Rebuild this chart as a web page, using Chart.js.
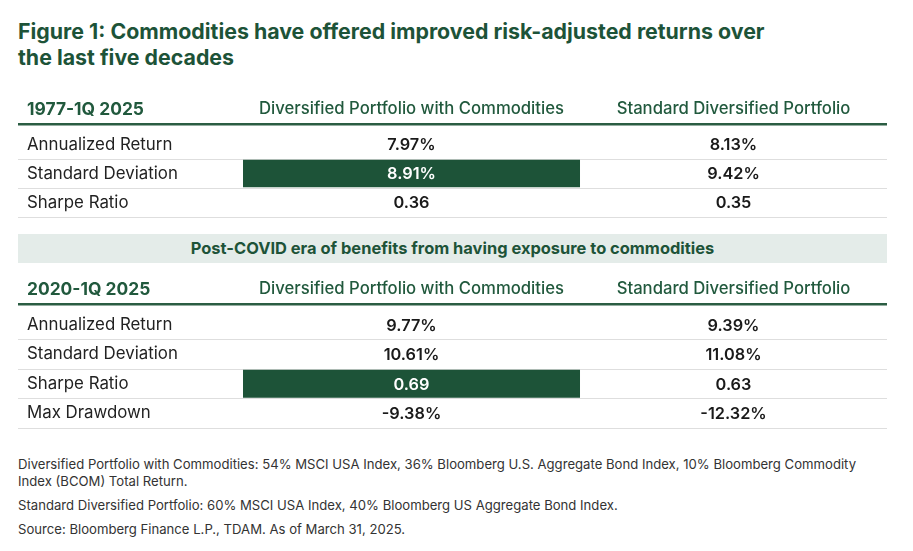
<!DOCTYPE html>
<html>
<head>
<meta charset="utf-8">
<script src="https://cdn.jsdelivr.net/npm/chart.js@4.4.1/dist/chart.umd.min.js"></script>
<style>
  html, body { margin: 0; padding: 0; background: #ffffff; }
  body { width: 913px; height: 551px; position: relative; overflow: hidden; }
  .abs { position: absolute; white-space: nowrap; margin: 0; }
  canvas.abs { display: block; }
</style>
</head>
<body>
<div id="title1" class="abs"></div>
<div id="title2" class="abs"></div>
<canvas id="table1" class="abs" width="869" height="130" style="left:18px;top:90px;width:869px;height:130px"></canvas>
<div id="banner" class="abs" style="left:18px;top:234px;width:869px;height:29px;background:#e4ece9"></div>
<div id="bannerText" class="abs"></div>
<canvas id="table2" class="abs" width="869" height="161" style="left:18px;top:270px;width:869px;height:161px"></canvas>
<div id="foot1" class="abs"></div>
<div id="foot2" class="abs"></div>
<div id="foot3" class="abs"></div>
<div id="foot4" class="abs"></div>
<script>
// ---------------- DATA ----------------
const periodLabels = ['1977-1Q 2025', '2020-1Q 2025'];
const columnHeaders = ['Diversified Portfolio with Commodities', 'Standard Diversified Portfolio'];

const rowLabels1977 = ['Annualized Return', 'Standard Deviation', 'Sharpe Ratio'];
const withCommodities1977 = [7.97, 8.91, 0.36];
const standard1977 = [8.13, 9.42, 0.35];
const units1977 = ['%', '%', ''];
const highlighted1977 = [false, true, false];

const rowLabels2020 = ['Annualized Return', 'Standard Deviation', 'Sharpe Ratio', 'Max Drawdown'];
const withCommodities2020 = [9.77, 10.61, 0.69, -9.38];
const standard2020 = [9.39, 11.08, 0.63, -12.32];
const units2020 = ['%', '%', '', '%'];
const highlighted2020 = [false, false, true, false];

const titleLines = ['Figure 1: Commodities have offered improved risk-adjusted returns over', 'the last five decades'];
const bannerCaption = 'Post-COVID era of benefits from having exposure to commodities';
const footnotes = [
  'Diversified Portfolio with Commodities: 54% MSCI USA Index, 36% Bloomberg U.S. Aggregate Bond Index, 10% Bloomberg Commodity',
  'Index (BCOM) Total Return.',
  'Standard Diversified Portfolio: 60% MSCI USA Index, 40% Bloomberg US Aggregate Bond Index.',
  'Source: Bloomberg Finance L.P., TDAM. As of March 31, 2025.'
];

// ---------------- STYLE / LAYOUT ----------------
const FONT = 'Inter, "DejaVu Sans", sans-serif';
const GREEN = '#1d5338';
const HEADER_GREEN = '#21593d';
const COL_SPLIT = 0.5233;          // fraction of value area taken by first column
const mctx = document.createElement('canvas').getContext('2d');

function fitSize(text, weight, target) {
  mctx.font = `${weight} 100px ${FONT}`;
  return 100 * target / mctx.measureText(text).width;
}

function placeText(id, text, o) {
  const el = document.getElementById(id);
  el.textContent = text;
  const font = `${o.weight} ${o.size}px ${FONT}`;
  el.style.font = font;
  el.style.lineHeight = o.size + 'px';
  el.style.color = o.color;
  mctx.font = font;
  const m = mctx.measureText(text);
  const A = m.fontBoundingBoxAscent, D = m.fontBoundingBoxDescent;
  el.style.top = (o.baseline - ((o.size - (A + D)) / 2 + A)) + 'px';
  el.style.left = (o.align === 'center' ? o.x - m.width / 2 : o.x) + 'px';
}

const titleSize = fitSize(titleLines[0], 700, 747);
placeText('title1', titleLines[0], {x: 18, baseline: 40, weight: 700, size: titleSize, color: GREEN});
placeText('title2', titleLines[1], {x: 18, baseline: 65.7, weight: 700, size: titleSize, color: GREEN});

const bannerSize = fitSize(bannerCaption, 700, 524);
placeText('bannerText', bannerCaption, {x: 452.5, baseline: 254.5, weight: 700, size: bannerSize, color: GREEN, align: 'center'});

const footSize = fitSize(footnotes[0], 400, 839);
const footBaselines = [470, 486.7, 511, 534.3];
footnotes.forEach((t, i) => placeText('foot' + (i + 1), t, {x: 18, baseline: footBaselines[i], weight: 400, size: footSize, color: '#333333'}));

const rowLabelSize = fitSize('Standard Deviation', 400, 151);
const valueSize = fitSize('10.61%', 600, 55.7);
const periodSize = fitSize(periodLabels[0], 700, 117);
const colHeadSize = fitSize(columnHeaders[0], 500, 305);

// ---------------- TABLE CHARTS ----------------
const tableTextPlugin = {
  id: 'tableText',
  afterDatasetsDraw(chart, args, opts) {
    const {ctx, chartArea, scales: {x, y}} = chart;
    const lineY = chartArea.top - 5.7;
    const headY = lineY - 15;
    const c1 = x.getPixelForValue(COL_SPLIT / 2);
    const c2 = x.getPixelForValue((COL_SPLIT + 1) / 2);
    ctx.save();
    // header rule
    ctx.strokeStyle = '#2b5d43';
    ctx.lineWidth = 2.5;
    ctx.beginPath();
    ctx.moveTo(0, lineY);
    ctx.lineTo(chart.width, lineY);
    ctx.stroke();
    // header texts
    ctx.textBaseline = 'middle';
    ctx.fillStyle = HEADER_GREEN;
    ctx.textAlign = 'left';
    ctx.font = `700 ${periodSize}px ${FONT}`;
    ctx.fillText(opts.period, 9, headY);
    ctx.textAlign = 'center';
    ctx.font = `500 ${colHeadSize}px ${FONT}`;
    ctx.fillText(columnHeaders[0], c1, headY);
    ctx.fillText(columnHeaders[1], c2, headY);
    // values
    ctx.font = `600 ${valueSize}px ${FONT}`;
    opts.labels.forEach((lab, i) => {
      const py = y.getPixelForValue(i) + 1;
      ctx.fillStyle = opts.highlight[i] ? '#ffffff' : '#1a1a1a';
      ctx.fillText(opts.colA[i].toFixed(2) + opts.units[i], c1, py);
      ctx.fillStyle = '#1a1a1a';
      ctx.fillText(opts.colB[i].toFixed(2) + opts.units[i], c2, py);
    });
    ctx.restore();
  }
};

function makeTable(id, period, labels, colA, colB, units, highlight) {
  return new Chart(document.getElementById(id), {
    type: 'bar',
    data: {
      labels: labels,
      datasets: [{
        data: highlight.map(h => h ? [0, COL_SPLIT] : null),
        backgroundColor: GREEN,
        borderWidth: 0,
        barPercentage: 1,
        categoryPercentage: 0.95
      }]
    },
    options: {
      indexAxis: 'y',
      responsive: false,
      animation: false,
      events: [],
      layout: {padding: {top: 40, bottom: 3, left: 9, right: 0}},
      plugins: {
        legend: {display: false},
        tooltip: {enabled: false},
        tableText: {period, labels, colA, colB, units, highlight}
      },
      scales: {
        x: {type: 'linear', min: 0, max: 1, display: false},
        y: {
          type: 'category',
          offset: true,
          border: {display: false},
          afterFit(scale) {
            scale.width = 216;
            scale.paddingTop = 0;
            scale.paddingBottom = 0;
          },
          grid: {
            offset: true,
            drawTicks: true,
            tickLength: 225,
            color: ctx => ctx.index === 0 ? 'rgba(0,0,0,0)' : (ctx.index === labels.length ? '#a3a3a3' : '#dedede'),
            lineWidth: ctx => ctx.index === labels.length ? 1.5 : 1
          },
          ticks: {
            autoSkip: false,
            crossAlign: 'far',
            color: '#222222',
            font: {family: FONT, size: rowLabelSize, weight: 400}
          }
        }
      }
    },
    plugins: [tableTextPlugin]
  });
}

makeTable('table1', periodLabels[0], rowLabels1977, withCommodities1977, standard1977, units1977, highlighted1977);
makeTable('table2', periodLabels[1], rowLabels2020, withCommodities2020, standard2020, units2020, highlighted2020);
</script>
</body>
</html>
